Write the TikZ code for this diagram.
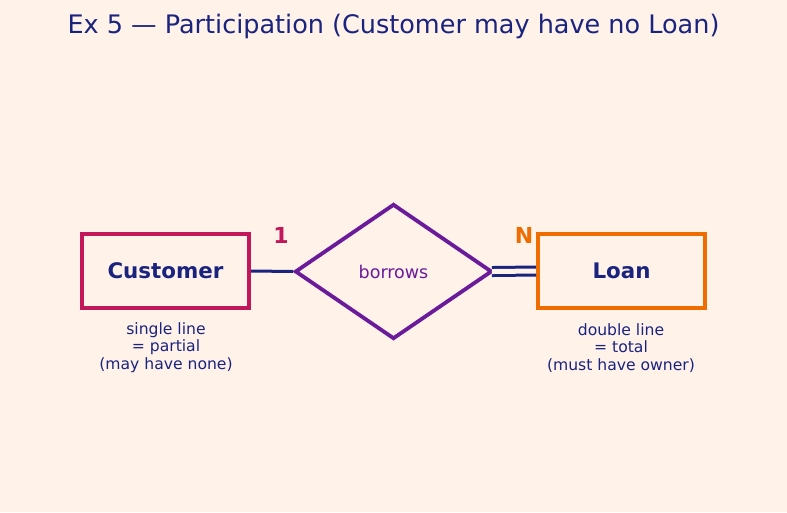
\documentclass[tikz,border=0pt]{standalone}
\usepackage{fontspec}
\setmainfont{DejaVu Sans}
\usetikzlibrary{shapes.geometric}
\definecolor{bg}{HTML}{FFF2E8}
\definecolor{navy}{HTML}{1A237E}
\definecolor{crim}{HTML}{C2185B}
\definecolor{orng}{HTML}{EF6C00}
\definecolor{purp}{HTML}{6A1B9A}
\tikzset{
  entity/.style={draw, line width=4pt, minimum width=167pt, minimum height=74pt, inner sep=0pt, text=navy, font=\fontsize{21.4}{25}\selectfont\bfseries},
  rel/.style={draw=purp, diamond, line width=3.8pt, minimum width=197pt, minimum height=135pt, inner sep=0pt, text=purp, font=\fontsize{17.5}{20}\selectfont},
  card/.style={font=\fontsize{22}{26}\selectfont\bfseries, inner sep=0pt},
  note/.style={text=navy, align=center, font=\fontsize{15.6}{17.6}\selectfont, inner sep=0pt},
  conn/.style={draw=navy, line width=3pt}
}
\begin{document}
\begin{tikzpicture}[x=1pt,y=-1pt]
\fill[bg] (0,0) rectangle (787,512);
\useasboundingbox (0,0) rectangle (787,512);
\node[text=navy, font=\fontsize{25.5}{30}\selectfont, inner sep=0pt] (title) at (393.5,26.5) {Ex 5 — Participation (Customer may have no Loan)};
\node[entity, draw=crim] (cust) at (165.5,271) {Customer};
\node[entity, draw=orng] (loan) at (621.5,271) {Loan};
\node[rel] (rel) at (393.5,271.5) {borrows};
\draw[conn] (cust.east) -- (rel.west);
\draw[navy, line width=3pt, double=bg, double distance=5pt, shorten <=-2pt] (rel.east) -- (loan.west);
\node[card, text=crim] (one) at (281,235) {1};
\node[card, text=orng] (en) at (524,235) {N};
\node[note] (cnote) at (166,347.5) {single line\\= partial\\(may have none)};
\node[note] (lnote) at (621,348) {double line\\= total\\(must have owner)};
\end{tikzpicture}
\end{document}
